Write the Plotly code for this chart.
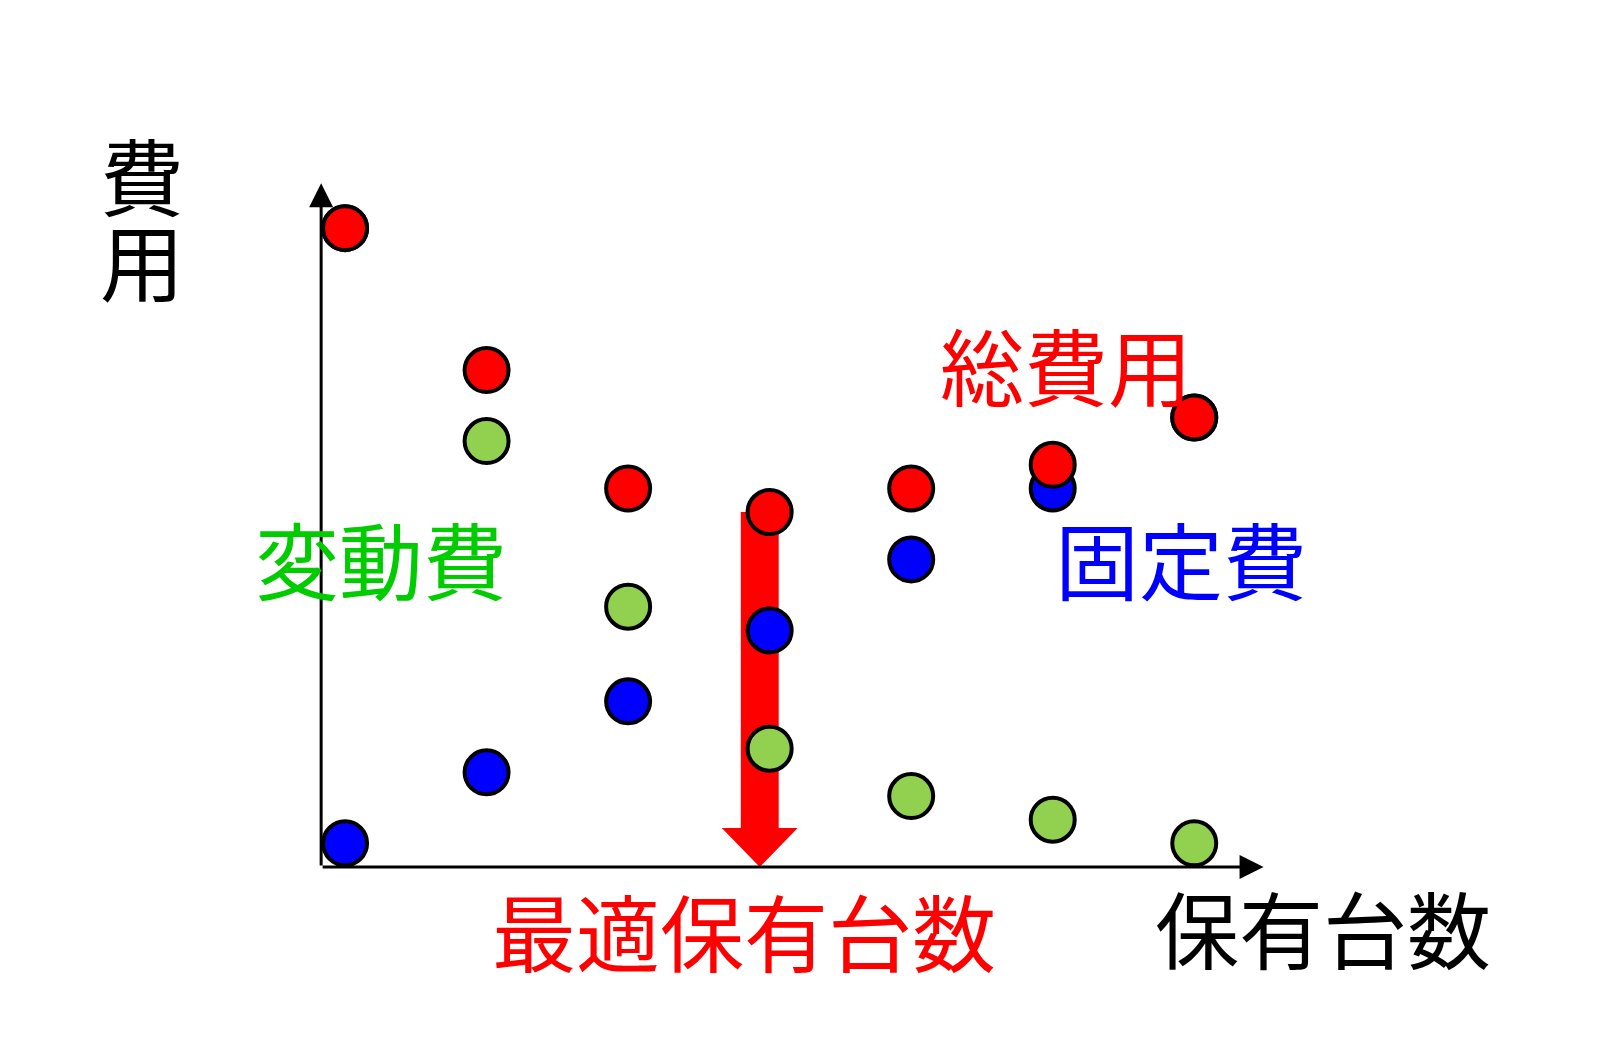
import plotly.graph_objects as go

# chart values (cost units)
units = [0, 1, 2, 3, 4, 5, 6]
fixed_cost = [1, 4, 7, 10, 13, 16, 19]        # 固定費
variable_cost = [27, 18, 11, 5, 3, 2, 1]      # 変動費
total_cost = [27, 21, 16, 15, 16, 17, 19]     # 総費用

# point with the smallest total cost -> 最適保有台数
opt = total_cost.index(min(total_cost))

FONT = "Noto Sans CJK JP"
# page body has an 8px margin, so the figure is a bit smaller and shifted
W, H = 1592, 1040
L, T = 313, 174
PW, PH = 944, 685
R, B = W - L - PW, H - T - PH

fig = go.Figure()

marker_line = dict(color="black", width=4)
for vals, col in [(fixed_cost, "#0000FF"), (variable_cost, "#92D050"), (total_cost, "#FF0000")]:
    fig.add_trace(go.Scatter(
        x=units, y=vals, mode="markers",
        marker=dict(size=44, color=col, line=marker_line),
        cliponaxis=False, hoverinfo="skip", showlegend=False,
    ))

# big red arrow under the optimum (drawn below the circles)
ax_x = units[opt] - 0.07
fig.add_shape(type="rect", layer="below", line_width=0, fillcolor="#FF0000",
              x0=ax_x - 0.134, x1=ax_x + 0.134, y0=1.6, y1=total_cost[opt])
fig.add_shape(type="path", layer="below", line_width=0, fillcolor="#FF0000",
              path=f"M {ax_x - 0.268} 1.65 L {ax_x + 0.268} 1.65 L {ax_x} 0 Z")

# axis arrows
for tip in [(6.49, 0), (-0.169, 28.9)]:
    fig.add_annotation(x=tip[0], y=tip[1], ax=-0.169, ay=0, xref="x", yref="y",
                       axref="x", ayref="y", showarrow=True, arrowhead=2, arrowwidth=3,
                       arrowsize=1.6, arrowcolor="black", text="", standoff=0)


def to_paper(xp, yp):
    # reference pixel position -> paper coords
    return (xp - 321) / PW, (867 - yp) / PH


# vertical y-axis title: small base font keeps the line pitch tight (1.3em = 85px)
big = '<span style="font-size:84px">{}</span>'
xx, yy = to_paper(142, 216)
fig.add_annotation(x=xx, y=yy, xref="paper", yref="paper", showarrow=False,
                   text=big.format("費") + "<br>" + big.format("用"),
                   xanchor="center", yanchor="middle",
                   font=dict(family=FONT, size=65, color="black"))

labels = [
    ("総費用", 1066, 363, "#FF0000"),
    ("変動費", 381, 557, "#00CC00"),
    ("固定費", 1181, 557, "#0000FF"),
    ("最適保有台数", 744, 929, "#FF0000"),
    ("保有台数", 1323, 927, "black"),
]
for txt, xp, yp, col in labels:
    xx, yy = to_paper(xp, yp)
    fig.add_annotation(x=xx, y=yy, xref="paper", yref="paper", text=txt, showarrow=False,
                       xanchor="center", yanchor="middle",
                       font=dict(family=FONT, size=84, color=col))

fig.update_layout(
    width=W, height=H,
    margin=dict(l=L, r=R, t=T, b=B),
    plot_bgcolor="white", paper_bgcolor="white",
    xaxis=dict(range=[-0.17, 6.5], visible=False),
    yaxis=dict(range=[0, 28.95], visible=False),
)

fig.write_html("out.html")
